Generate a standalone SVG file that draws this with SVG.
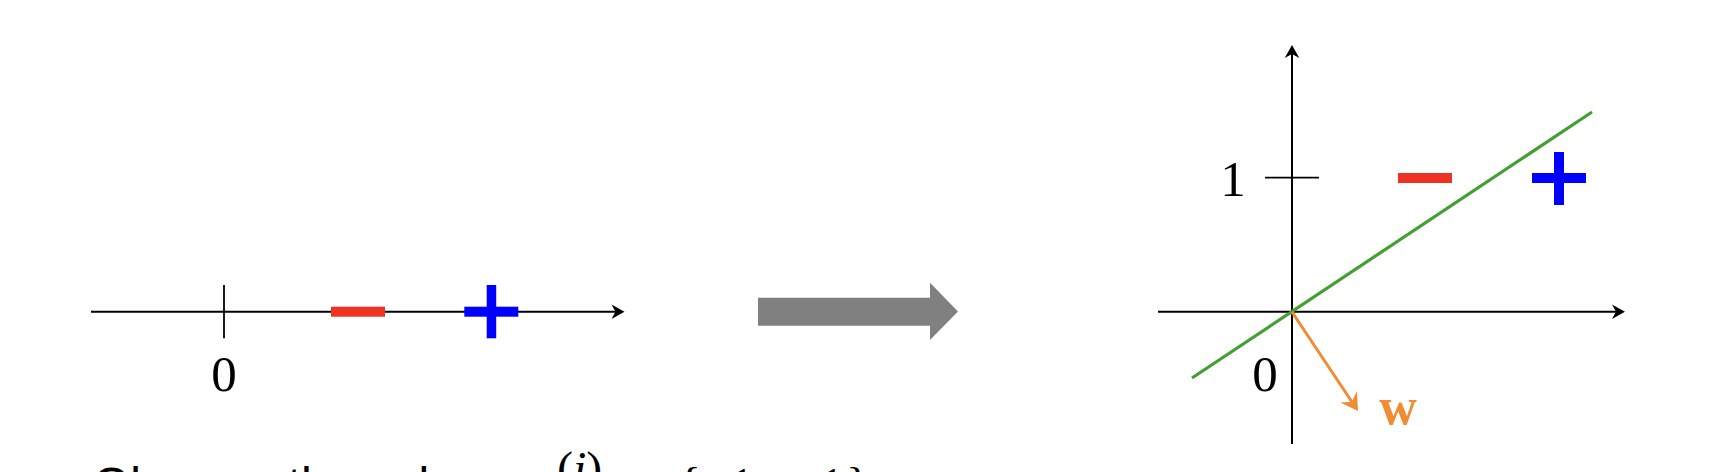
<svg xmlns="http://www.w3.org/2000/svg" width="1734" height="472" viewBox="0 0 1734 472">
  <style>
    .axis { stroke: #000; stroke-width: 2; fill: none; }
    .tick { stroke: #000; stroke-width: 1.8; fill: none; }
    .num { font-family: "Liberation Serif", "Times New Roman", serif; font-size: 51px; fill: #000; }
    .neg { fill: #EE3224; }
    .pos { fill: #0000FF; }
    .sep { stroke: #41A02F; stroke-width: 3.2; fill: none; }
    .wvec { stroke: #F08C32; stroke-width: 3; fill: none; }
    .cap { font-family: "Liberation Sans", Arial, sans-serif; font-size: 48px; fill: #000; }
    .math { font-family: "Liberation Serif", "Times New Roman", serif; font-size: 48px; fill: #000; }
  </style>
  <defs>
    <marker id="blackHead" markerUnits="userSpaceOnUse" markerWidth="30" markerHeight="30" viewBox="-15 -15 30 30" refX="0" refY="0" orient="auto" overflow="visible">
      <path d="M8,0 L-5,-7.3 L-1,0 L-5,7.3 Z" fill="#000"/>
    </marker>
    <marker id="orangeHead" markerUnits="userSpaceOnUse" markerWidth="40" markerHeight="40" viewBox="-20 -20 40 40" refX="0" refY="0" orient="auto" overflow="visible">
      <path d="M6,0 L-11,-10 L-5,0 L-11,10 Z" fill="#F08C32"/>
    </marker>
  </defs>
  <rect width="1734" height="472" fill="#fff"/>

  <g id="left-plot">
    <line class="axis" x1="91" y1="311.7" x2="616.5" y2="311.7" marker-end="url(#blackHead)"/>
    <line class="tick" x1="224" y1="285" x2="224" y2="338.3"/>
    <text class="num" x="224" y="391" text-anchor="middle">0</text>
    <rect id="left-minus" class="neg" x="331" y="306.7" width="54" height="10"/>
    <g id="left-plus" class="pos">
      <rect x="464.3" y="306.7" width="54" height="10"/>
      <rect x="486.7" y="285" width="9.5" height="53.3"/>
    </g>
  </g>

  <g id="transform-arrow">
    <polygon points="758,297.7 930,297.7 930,282.7 958,311.5 930,340 930,325.7 758,325.7" fill="#808080"/>
  </g>

  <g id="right-plot">
    <g id="axes">
      <line class="axis" x1="1158" y1="311.7" x2="1617" y2="311.7" marker-end="url(#blackHead)"/>
      <line class="axis" x1="1292" y1="444" x2="1292" y2="53" marker-end="url(#blackHead)"/>
      <line class="tick" x1="1265" y1="177.7" x2="1319" y2="177.7"/>
      <text class="num" x="1233" y="196" text-anchor="middle">1</text>
      <text class="num" x="1265" y="391" text-anchor="middle">0</text>
    </g>
    <rect id="right-minus" class="neg" x="1398" y="173" width="54" height="10"/>
    <g id="right-plus" class="pos">
      <rect x="1532" y="173" width="54" height="10"/>
      <rect x="1554" y="152" width="10" height="53"/>
    </g>
    <g id="connectors">
      <line id="separator" class="sep" x1="1192" y1="378" x2="1592" y2="112"/>
      <line id="w-vector" class="wvec" x1="1292" y1="312" x2="1354.7" y2="406" marker-end="url(#orangeHead)"/>
    </g>
    <text id="w-label" x="1398" y="424" text-anchor="middle" font-family="Liberation Serif, Times New Roman, serif" font-weight="bold" font-size="52" fill="#F08C32">w</text>
  </g>

  <g id="caption">
    <text class="cap" x="93" y="501">Observe the values</text>
    <text class="math" x="520" y="501" font-style="italic">x</text>
    <text class="math" x="557" y="485" font-size="36">(<tspan font-style="italic">i</tspan>)</text>
    <text class="math" x="622" y="501">=</text>
    <text class="math" x="678" y="501">{</text>
    <text class="math" x="703" y="501">−1,</text>
    <text class="math" x="793" y="501">+1</text>
    <text class="math" x="846" y="501">}</text>
  </g>
</svg>
